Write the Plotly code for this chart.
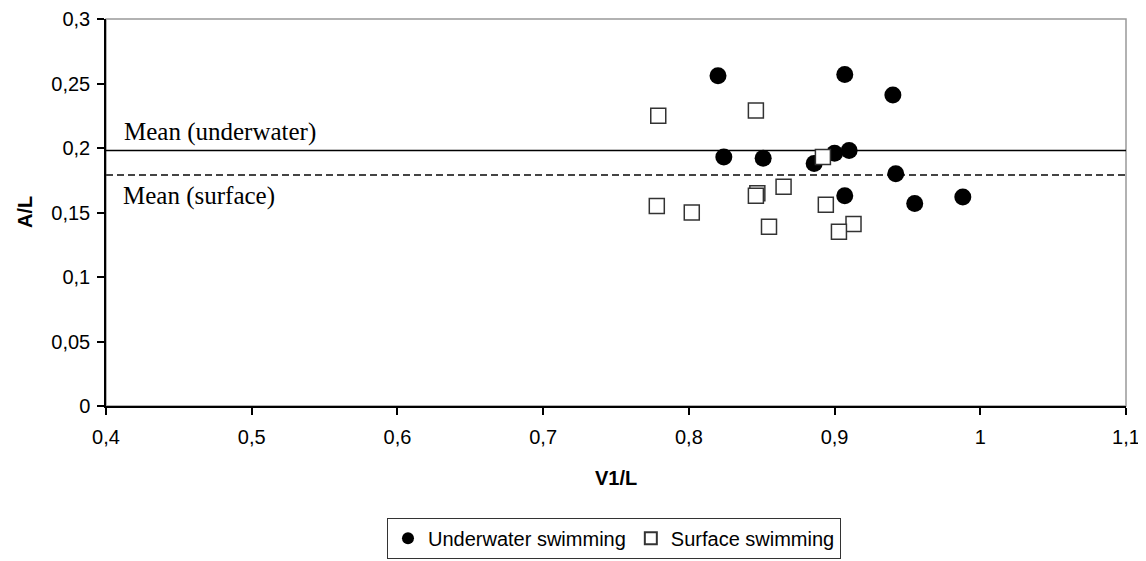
import plotly.graph_objects as go

# Data
underwater_x = [0.820, 0.907, 0.940, 0.824, 0.851, 0.886, 0.900, 0.910, 0.942, 0.907, 0.955, 0.988]
underwater_y = [0.256, 0.257, 0.241, 0.193, 0.192, 0.188, 0.196, 0.198, 0.180, 0.163, 0.157, 0.162]

surface_x = [0.779, 0.846, 0.892, 0.865, 0.847, 0.846, 0.778, 0.802, 0.894, 0.855, 0.913, 0.903]
surface_y = [0.225, 0.229, 0.193, 0.170, 0.165, 0.163, 0.155, 0.150, 0.156, 0.139, 0.141, 0.135]

mean_underwater = 0.198
mean_surface = 0.179

x_range = [0.4, 1.1]
y_range = [0, 0.3]
x_tickvals = [0.4, 0.5, 0.6, 0.7, 0.8, 0.9, 1.0, 1.1]
x_ticktext = ["0,4", "0,5", "0,6", "0,7", "0,8", "0,9", "1", "1,1"]
y_tickvals = [0, 0.05, 0.1, 0.15, 0.2, 0.25, 0.3]
y_ticktext = ["0", "0,05", "0,1", "0,15", "0,2", "0,25", "0,3"]

SANS = "Liberation Sans, Arial, sans-serif"
SERIF = "Liberation Serif, Times New Roman, serif"

fig = go.Figure()

# mean lines
fig.add_trace(go.Scatter(x=x_range, y=[mean_underwater] * 2, mode="lines",
                         line=dict(color="black", width=1.5), showlegend=False, hoverinfo="skip"))
fig.add_trace(go.Scatter(x=x_range, y=[mean_surface] * 2, mode="lines",
                         line=dict(color="#444444", width=2, dash="7px,4px"), showlegend=False,
                         hoverinfo="skip"))

fig.add_trace(go.Scatter(x=underwater_x, y=underwater_y, mode="markers", name="Underwater swimming",
                         marker=dict(symbol="circle", size=17, color="black",
                                     line=dict(color="black", width=0))))
fig.add_trace(go.Scatter(x=surface_x, y=surface_y, mode="markers", name="Surface swimming",
                         marker=dict(symbol="square", size=15, color="white",
                                     line=dict(color="#333333", width=1.5))))

# frame (top/right gray)
fig.add_shape(type="rect", xref="paper", yref="paper", x0=0, y0=0, x1=1, y1=1,
              line=dict(color="#999999", width=1.5), layer="below")

fig.add_annotation(text="Mean (underwater)", xref="paper", yref="y", x=0.0154, y=0.2125,
                   xanchor="left", yanchor="middle", showarrow=False,
                   font=dict(family=SERIF, size=25, color="black"))
fig.add_annotation(text="Mean (surface)", xref="paper", yref="y", x=0.0145, y=0.1625,
                   xanchor="left", yanchor="middle", showarrow=False,
                   font=dict(family=SERIF, size=25, color="black"))

fig.add_annotation(text="<b>A/L</b>", xref="paper", yref="paper", x=-0.0799, y=0.5,
                   xanchor="center", yanchor="middle", textangle=-90, showarrow=False,
                   font=dict(family=SANS, size=20, color="black"))
fig.add_annotation(text="<b>V1/L</b>", xref="paper", yref="paper", x=0.5, y=-0.186,
                   xanchor="center", yanchor="middle", showarrow=False,
                   font=dict(family=SANS, size=20, color="black"))

fig.update_layout(
    width=1138, height=553, autosize=False,
    margin=dict(l=98, r=20, t=11, b=155, autoexpand=False),
    paper_bgcolor="white", plot_bgcolor="white",
    font=dict(family=SANS, size=19, color="black"),
    showlegend=True,
    legend=dict(orientation="h", xref="container", yref="container",
                x=0.5325, y=0.004, xanchor="center", yanchor="bottom",
                bordercolor="#333333", borderwidth=1, bgcolor="white",
                font=dict(family=SANS, size=20, color="black"),
                itemsizing="constant", itemwidth=30, tracegroupgap=0),
)

fig.update_xaxes(range=x_range, tickvals=x_tickvals, ticktext=x_ticktext, automargin=False,
                 showgrid=False, zeroline=False, showline=True, linecolor="black", linewidth=1.5,
                 ticks="outside", ticklen=7, tickwidth=1.5, tickcolor="black",
                 ticklabelstandoff=5,
                 tickfont=dict(family=SANS, size=20, color="black"))
fig.update_yaxes(range=y_range, tickvals=y_tickvals, ticktext=y_ticktext, automargin=False,
                 showgrid=False, zeroline=False, showline=True, linecolor="black", linewidth=1.5,
                 ticks="outside", ticklen=7, tickwidth=1.5, tickcolor="black",
                 ticklabelstandoff=3,
                 tickfont=dict(family=SANS, size=20, color="black"))

fig.write_html("out.html")
